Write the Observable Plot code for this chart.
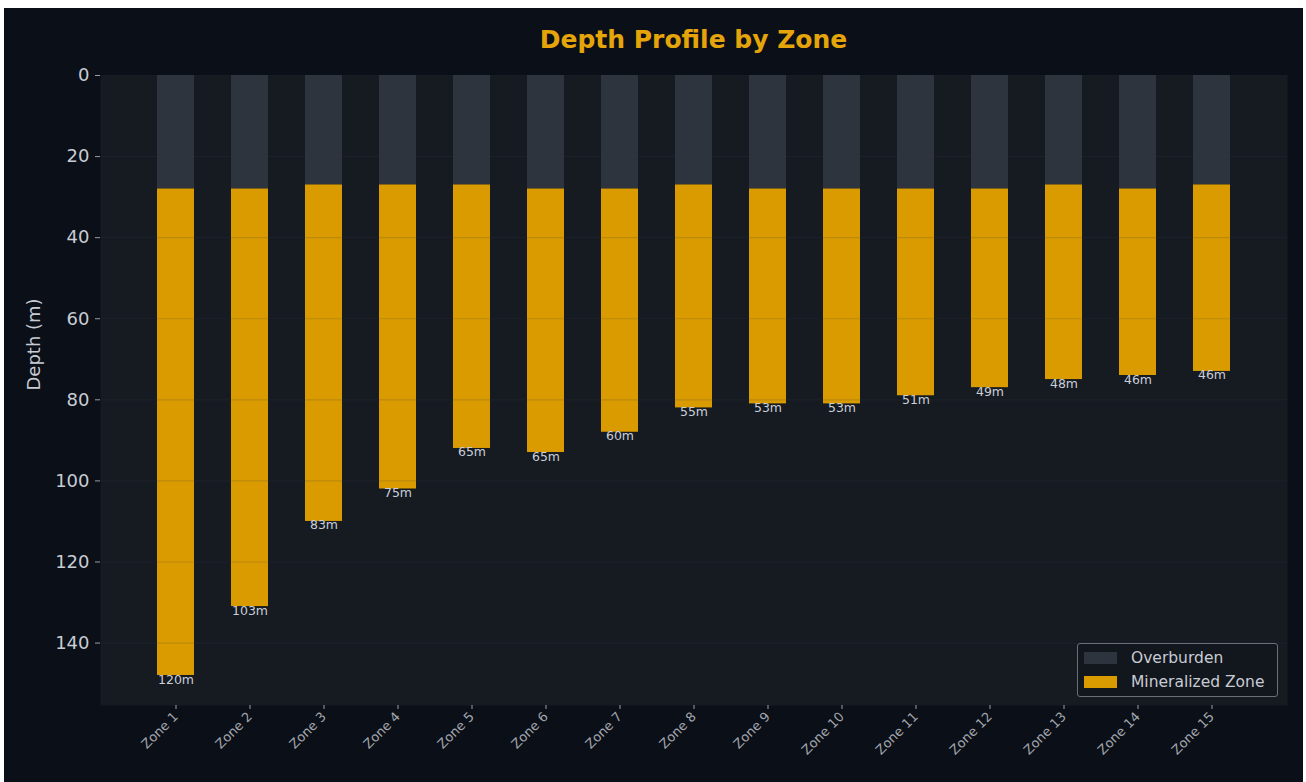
<!DOCTYPE html>
<html>
<head>
<meta charset="utf-8">
<script src="https://cdn.jsdelivr.net/npm/d3@7"></script>
<script src="https://cdn.jsdelivr.net/npm/@observablehq/plot@0.6"></script>
<style>
  html, body { margin: 0; padding: 0; background: #ffffff; }
  #fig { position: absolute; left: 4px; top: 8px; width: 1299px; height: 774px; background: #0b0f17; font-family: "DejaVu Sans", sans-serif; }
  #title { height: 52px; color: #e5a50a; font-weight: bold; font-size: 25px; }
  #title span { position: absolute; left: 0; width: 1379px; text-align: center; top: 0; line-height: 64px; }
  #legend { position: absolute; left: 1073px; top: 635px; width: 199px; height: 52px; border: 1px solid #6b6f76; border-radius: 3px; background: #12161d; color: #c8ccd4; font-size: 15.5px; }
  .item { position: absolute; left: 6px; height: 16px; display: flex; align-items: center; }
  .sw { width: 33px; height: 12px; margin-right: 14px; }
</style>
</head>
<body>
<div id="fig">
  <div id="title"><span>Depth Profile by Zone</span></div>
  <div id="chart"></div>
  <div id="legend">
    <div class="item" style="top:6px"><div class="sw" style="background:#2e343d"></div>Overburden</div>
    <div class="item" style="top:30px"><div class="sw" style="background:#d99b00"></div>Mineralized Zone</div>
  </div>
</div>
<script>
const zones = ["Zone 1","Zone 2","Zone 3","Zone 4","Zone 5","Zone 6","Zone 7","Zone 8","Zone 9","Zone 10","Zone 11","Zone 12","Zone 13","Zone 14","Zone 15"];
const overburden = [28, 28, 27, 27, 27, 28, 28, 27, 28, 28, 28, 28, 27, 28, 27];
const mineralized = [120, 103, 83, 75, 65, 65, 60, 55, 53, 53, 51, 49, 48, 46, 46];
const yTicks = [0, 20, 40, 60, 80, 100, 120, 140];
const seriesNames = ["Overburden", "Mineralized Zone"];
const colors = ["#2e343d", "#d99b00"];

const rows = zones.map((z, i) => ({zone: z, ob: overburden[i], mz: mineralized[i], total: overburden[i] + mineralized[i]}));
const maxDepth = d3.max(rows, d => d.total) * 1.05;

const chart = Plot.plot({
  width: 1299,
  height: 722,
  marginLeft: 96,
  marginRight: 16,
  marginTop: 15,
  marginBottom: 77,
  style: {background: "transparent", color: "#c8ccd4", fontFamily: "DejaVu Sans, sans-serif"},
  x: {domain: zones, paddingInner: 0.5, paddingOuter: 0.75, label: null},
  y: {domain: [0, maxDepth], reverse: true, label: null},
  marks: [
    Plot.frame({fill: "#161a21", stroke: null}),
    Plot.barY(rows, {x: "zone", y1: 0, y2: "ob", fill: colors[0]}),
    Plot.barY(rows, {x: "zone", y1: "ob", y2: "total", fill: colors[1]}),
    Plot.ruleY(yTicks, {stroke: "#3a3f48", strokeOpacity: 0.18, strokeWidth: 1.2}),
    Plot.text(rows, {x: "zone", y: "total", text: d => d.mz + "m", dy: 4, fontSize: 12.5, fill: "#c9ced8", lineAnchor: "middle"}),
    Plot.axisY({ticks: yTicks, tickSize: 5, tickPadding: 6, fontSize: 18, label: null, stroke: "#9a9ea6", fill: "#c8ccd4"}),
    Plot.axisX({tickRotate: -45, fontSize: 13, tickSize: 4, tickPadding: 5, label: null, fill: "#a2a6ae", stroke: "#9a9ea6"}),
    Plot.text(["Depth (m)"], {frameAnchor: "left", rotate: -90, dx: -66, fontSize: 18, fill: "#c8ccd4"})
  ]
});
document.getElementById("chart").appendChild(chart);
</script>
</body>
</html>
